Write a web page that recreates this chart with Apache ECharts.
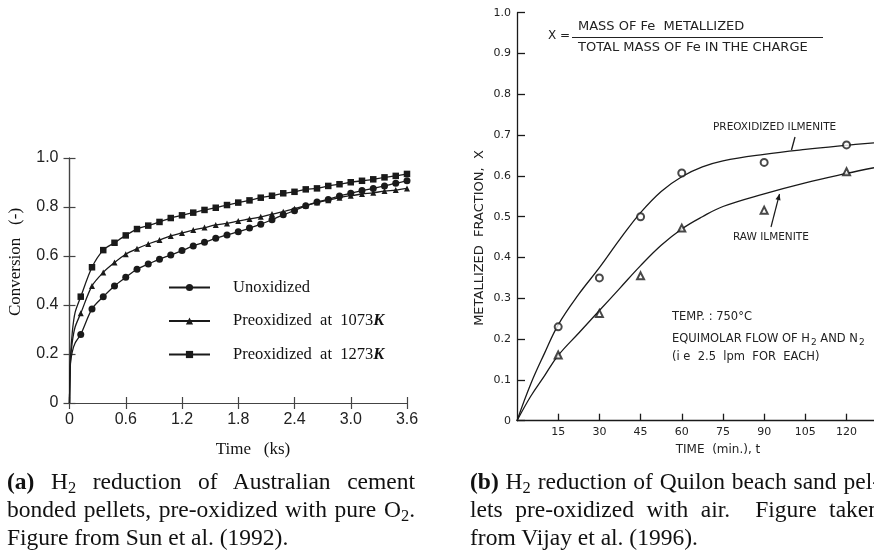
<!DOCTYPE html>
<html>
<head>
<meta charset="utf-8">
<script src="https://cdn.jsdelivr.net/npm/echarts@6/dist/echarts.min.js"></script>
<style>
  html, body { margin: 0; padding: 0; background: #fff; overflow: hidden; }
  #wrap { position: relative; width: 874px; height: 553px; overflow: hidden; }
  #chart { position: absolute; left: 0; top: 0; width: 874px; height: 553px; }
  .cap { position: absolute; font-family: 'Liberation Serif', 'Times New Roman', serif;
         font-size: 23.5px; line-height: 28px; color: #111; }
  .cap div { white-space: nowrap; }
  .cap .j { white-space: normal; text-align: justify; text-align-last: justify; }
  .cap sub { font-size: 70%; line-height: 0; vertical-align: -0.25em; }
</style>
</head>
<body>
<div id="wrap">
  <div id="chart"></div>
  <div class="cap" style="left:7px; top:467px; width:408px;">
    <div class="j"><b>(a)</b> H<sub>2</sub> reduction of Australian cement</div>
    <div class="j">bonded pellets, pre-oxidized with pure O<sub>2</sub>.</div>
    <div>Figure from Sun et al. (1992).</div>
  </div>
  <div class="cap" style="left:470px; top:467px; width:410px;">
    <div class="j"><b>(b)</b> H<sub>2</sub> reduction of Quilon beach sand pel-</div>
    <div class="j">lets pre-oxidized with air.&nbsp; Figure taken</div>
    <div>from Vijay et al. (1996).</div>
  </div>
</div>
<script>
// (a) 左图：转化率-时间 (ks)
const timeKs = [0.12, 0.24, 0.36, 0.48, 0.60, 0.72, 0.84, 0.96, 1.08, 1.20,
                1.32, 1.44, 1.56, 1.68, 1.80, 1.92, 2.04, 2.16, 2.28, 2.40,
                2.52, 2.64, 2.76, 2.88, 3.00, 3.12, 3.24, 3.36, 3.48, 3.60];
const unoxidized = [0.280, 0.384, 0.434, 0.478, 0.513, 0.546, 0.567, 0.587, 0.604, 0.622,
                    0.641, 0.656, 0.672, 0.686, 0.699, 0.714, 0.730, 0.748, 0.768, 0.785,
                    0.805, 0.820, 0.831, 0.845, 0.856, 0.867, 0.876, 0.886, 0.897, 0.907];
const pre1073 = [0.366, 0.478, 0.533, 0.573, 0.607, 0.630, 0.649, 0.665, 0.682, 0.694,
                 0.706, 0.716, 0.727, 0.733, 0.743, 0.751, 0.760, 0.771, 0.781, 0.793,
                 0.806, 0.818, 0.828, 0.838, 0.846, 0.853, 0.858, 0.865, 0.869, 0.876];
const pre1273 = [0.434, 0.554, 0.624, 0.654, 0.684, 0.710, 0.724, 0.739, 0.755, 0.766,
                 0.777, 0.788, 0.797, 0.808, 0.818, 0.827, 0.838, 0.846, 0.856, 0.862,
                 0.872, 0.876, 0.886, 0.893, 0.901, 0.907, 0.913, 0.921, 0.927, 0.935];
// 曲线起始段（无标记点）
const startKs = [0, 0.01, 0.03, 0.06];
const unoxStart = [0, 0.16, 0.21, 0.245];
const pre1073Start = [0, 0.17, 0.25, 0.31];
const pre1273Start = [0, 0.18, 0.29, 0.37];
const namesA = ['Unoxidized', 'Preoxidized  at  1073K', 'Preoxidized  at  1273K'];

// (b) 右图：金属化率-时间 (min)
const timeMin = [15, 30, 45, 60, 90, 120];
const preoxPts = [0.230, 0.350, 0.500, 0.607, 0.633, 0.676];
const rawPts = [0.161, 0.263, 0.355, 0.472, 0.516, 0.610];
const curveMin = [0, 5, 10, 15, 22.5, 30, 37.5, 45, 52.5, 60, 67.5, 75, 90, 105, 120, 130];
const preoxCurve = [0, 0.09, 0.165, 0.235, 0.31, 0.375, 0.445, 0.51, 0.562, 0.598, 0.622, 0.637, 0.653, 0.665, 0.675, 0.681];
const rawCurve = [0, 0.06, 0.11, 0.16, 0.215, 0.27, 0.325, 0.38, 0.43, 0.47, 0.5, 0.525, 0.556, 0.583, 0.606, 0.62];
const xTicksB = [15, 30, 45, 60, 75, 90, 105, 120];

const INK = '#1a1a1a';

function seriesA(name, symbol, size, startVals, vals) {
  const data = [];
  for (let i = 0; i < startKs.length; i++) {
    data.push({ value: [startKs[i], startVals[i]], symbol: 'none' });
  }
  for (let i = 0; i < timeKs.length; i++) {
    data.push([timeKs[i], vals[i]]);
  }
  return {
    name: name, type: 'line', xAxisIndex: 0, yAxisIndex: 0,
    smooth: 0.3, symbol: symbol, symbolSize: size,
    itemStyle: { color: INK },
    lineStyle: { color: INK, width: 1.3 },
    data: data, z: 3
  };
}

function zip(xs, ys) {
  return xs.map((x, i) => [x, ys[i]]);
}

const axisLineA = { show: true, lineStyle: { color: '#444', width: 1.2 } };
const tickA = { show: true, inside: true, length: 6, lineStyle: { color: '#444', width: 1.2 } };
const fmt1 = v => (v === 0 ? '0' : v.toFixed(1));
const labelA = { color: '#222', fontFamily: 'Liberation Sans', fontSize: 16 };

// 箭头（RAW ILMENITE 指示线）
const arrFrom = [771, 227], arrTo = [779.5, 194];
const dx = arrTo[0] - arrFrom[0], dy = arrTo[1] - arrFrom[1];
const dl = Math.sqrt(dx * dx + dy * dy);
const ux = dx / dl, uy = dy / dl;
const headL = 6, headW = 2.6;
const headPts = [
  [arrTo[0], arrTo[1]],
  [arrTo[0] - ux * headL - uy * headW, arrTo[1] - uy * headL + ux * headW],
  [arrTo[0] - ux * headL + uy * headW, arrTo[1] - uy * headL - ux * headW]
];

const fontB = 'DejaVu Sans';

const chart = echarts.init(document.getElementById('chart'), null, { renderer: 'canvas' });
chart.setOption({
  backgroundColor: '#fff',
  animation: false,
  grid: [
    { left: 69.5, top: 158, width: 337.5, height: 245 },
    { left: 517, top: 12.7, width: 357, height: 408 }
  ],
  legend: {
    data: namesA,
    orient: 'vertical',
    left: 168, top: 279, padding: 0,
    itemWidth: 41, itemHeight: 9, itemGap: 16.5,
    selectedMode: false,
    formatter: function (name) {
      if (name.endsWith('K')) return '{n|' + name.slice(0, -1) + '}{k|K}';
      return '{n|' + name + '}';
    },
    textStyle: {
      padding: [0, 0, 0, 18],
      rich: {
        n: { fontFamily: 'Liberation Serif', fontSize: 16.5, color: '#111' },
        k: { fontFamily: 'Liberation Serif', fontSize: 16.5, color: '#111', fontStyle: 'italic', fontWeight: 'bold' }
      }
    }
  },
  xAxis: [
    { type: 'value', gridIndex: 0, position: 'bottom', min: 0, max: 3.6, interval: 0.6,
      axisLine: axisLineA, axisTick: tickA, splitLine: { show: false },
      axisLabel: Object.assign({ margin: 9, formatter: fmt1 }, labelA) },
    { type: 'value', gridIndex: 0, position: 'top', min: 0, max: 3.6, interval: 0.6,
      axisLine: axisLineA, axisTick: tickA, splitLine: { show: false }, axisLabel: { show: false } },
    { type: 'value', gridIndex: 1, position: 'bottom', min: 0, max: 130,
      axisLine: { show: true, lineStyle: { color: INK, width: 1.3 } },
      axisTick: { show: true, inside: true, length: 7, customValues: xTicksB, lineStyle: { color: INK, width: 1.3 } },
      splitLine: { show: false },
      axisLabel: { customValues: xTicksB, margin: 6, color: '#222', fontFamily: fontB, fontSize: 11 } }
  ],
  yAxis: [
    { type: 'value', gridIndex: 0, position: 'left', min: 0, max: 1, interval: 0.2,
      axisLine: axisLineA, axisTick: tickA, splitLine: { show: false },
      axisLabel: Object.assign({ margin: 11, formatter: fmt1 }, labelA) },
    { type: 'value', gridIndex: 0, position: 'right', min: 0, max: 1, interval: 0.2,
      axisLine: axisLineA, axisTick: tickA, splitLine: { show: false }, axisLabel: { show: false } },
    { type: 'value', gridIndex: 1, position: 'left', min: 0, max: 1, interval: 0.1,
      axisLine: { show: true, lineStyle: { color: INK, width: 1.3 } },
      axisTick: { show: true, inside: true, length: 8, lineStyle: { color: INK, width: 1.3 } },
      splitLine: { show: false },
      axisLabel: { margin: 6, color: '#222', fontFamily: fontB, fontSize: 11, formatter: fmt1 } }
  ],
  series: [
    seriesA(namesA[0], 'circle', 7, unoxStart, unoxidized),
    seriesA(namesA[1], 'triangle', 6, pre1073Start, pre1073),
    seriesA(namesA[2], 'rect', 6.5, pre1273Start, pre1273),
    { name: 'preox-curve', type: 'line', xAxisIndex: 2, yAxisIndex: 2, smooth: 0.4,
      showSymbol: false, lineStyle: { color: INK, width: 1.3 }, data: zip(curveMin, preoxCurve) },
    { name: 'raw-curve', type: 'line', xAxisIndex: 2, yAxisIndex: 2, smooth: 0.4,
      showSymbol: false, lineStyle: { color: INK, width: 1.3 }, data: zip(curveMin, rawCurve) },
    { name: 'preox-pts', type: 'scatter', xAxisIndex: 2, yAxisIndex: 2, symbol: 'emptyCircle', symbolSize: 7,
      itemStyle: { color: INK, borderWidth: 1 }, data: zip(timeMin, preoxPts), z: 4 },
    { name: 'raw-pts', type: 'scatter', xAxisIndex: 2, yAxisIndex: 2, symbol: 'emptyTriangle', symbolSize: 7,
      itemStyle: { color: INK, borderWidth: 1 }, data: zip(timeMin, rawPts), z: 4 }
  ],
  graphic: [
    // 左图坐标轴标题
    { type: 'text', x: 16, y: 262, rotation: Math.PI / 2,
      style: { text: 'Conversion   (-)', fontFamily: 'Liberation Serif', fontSize: 17, fill: '#111', align: 'center', verticalAlign: 'middle' } },
    { type: 'text', x: 253, y: 450,
      style: { text: 'Time   (ks)', fontFamily: 'Liberation Serif', fontSize: 17, fill: '#111', align: 'center', verticalAlign: 'middle' } },
    // 右图坐标轴标题
    { type: 'text', x: 480, y: 238, rotation: Math.PI / 2,
      style: { text: 'METALLIZED  FRACTION,  X', fontFamily: fontB, fontSize: 13, fill: '#222', align: 'center', verticalAlign: 'middle' } },
    { type: 'text', x: 718, y: 450,
      style: { text: 'TIME  (min.), t', fontFamily: fontB, fontSize: 12, fill: '#222', align: 'center', verticalAlign: 'middle' } },
    // 公式
    { type: 'text', x: 548, y: 36,
      style: { text: 'X =', fontFamily: fontB, fontSize: 12, fill: '#222', align: 'left', verticalAlign: 'middle' } },
    { type: 'text', x: 578, y: 27,
      style: { text: 'MASS OF Fe  METALLIZED', fontFamily: fontB, fontSize: 13, fill: '#222', align: 'left', verticalAlign: 'middle' } },
    { type: 'line', shape: { x1: 572, y1: 37.5, x2: 823, y2: 37.5 }, style: { stroke: '#222', lineWidth: 1.2 } },
    { type: 'text', x: 578, y: 47.5,
      style: { text: 'TOTAL MASS OF Fe IN THE CHARGE', fontFamily: fontB, fontSize: 13, fill: '#222', align: 'left', verticalAlign: 'middle' } },
    // 曲线标注
    { type: 'text', x: 713, y: 127,
      style: { text: 'PREOXIDIZED ILMENITE', fontFamily: fontB, fontSize: 10.5, fill: '#222', align: 'left', verticalAlign: 'middle' } },
    { type: 'line', shape: { x1: 795, y1: 137, x2: 791.5, y2: 150 }, style: { stroke: INK, lineWidth: 1.3 } },
    { type: 'text', x: 733, y: 237,
      style: { text: 'RAW ILMENITE', fontFamily: fontB, fontSize: 10.5, fill: '#222', align: 'left', verticalAlign: 'middle' } },
    { type: 'line', shape: { x1: arrFrom[0], y1: arrFrom[1], x2: arrTo[0], y2: arrTo[1] }, style: { stroke: INK, lineWidth: 1.2 } },
    { type: 'polygon', shape: { points: headPts }, style: { fill: INK } },
    // 实验条件
    { type: 'text', x: 672, y: 317,
      style: { text: 'TEMP. : 750°C', fontFamily: fontB, fontSize: 11.5, fill: '#222', align: 'left', verticalAlign: 'middle' } },
    { type: 'text', x: 672, y: 339,
      style: {
        text: '{t|EQUIMOLAR FLOW OF H}{s|2}{t| AND N}{s|2}',
        align: 'left', verticalAlign: 'middle',
        rich: {
          t: { fontFamily: fontB, fontSize: 11.5, fill: '#222', lineHeight: 16 },
          s: { fontFamily: fontB, fontSize: 9, fill: '#222', lineHeight: 16, padding: [7, 0, 0, 1] }
        }
      } },
    { type: 'text', x: 672, y: 357,
      style: { text: '(i e  2.5  lpm  FOR  EACH)', fontFamily: fontB, fontSize: 11.5, fill: '#222', align: 'left', verticalAlign: 'middle' } }
  ]
});
</script>
</body>
</html>
